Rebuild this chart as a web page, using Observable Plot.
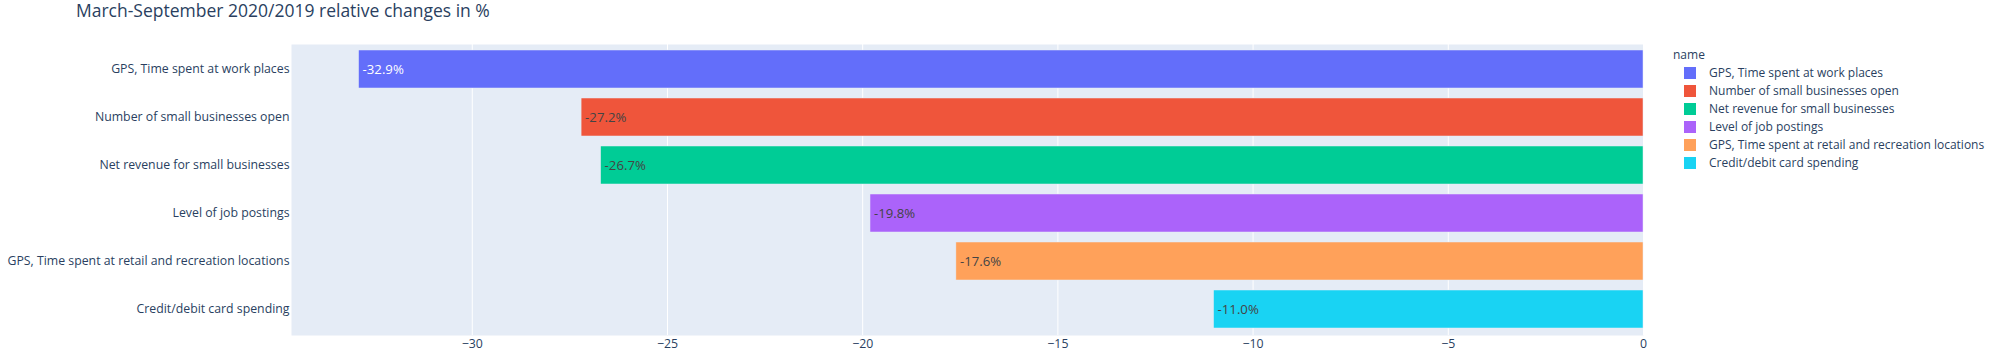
<!DOCTYPE html>
<html>
<head>
<meta charset="utf-8">
<script src="https://cdn.jsdelivr.net/npm/d3@7"></script>
<script src="https://cdn.jsdelivr.net/npm/@observablehq/plot@0.6"></script>
<style>
  html, body { margin: 0; padding: 0; background: #fff; }
  #wrap { position: relative; width: 2000px; height: 361px; font-family: "Open Sans", verdana, arial, sans-serif; color: #2a3f5f; }
  #title { position: absolute; left: 76px; top: 0px; font-size: 17.5px; line-height: 20px; white-space: nowrap; }
  #legend { position: absolute; left: 1673px; top: 46px; font-size: 12px; }
  #legend .ltitle { height: 18px; line-height: 18px; }
  #legend .item { position: relative; height: 18px; line-height: 18px; white-space: nowrap; }
  #legend .sw { position: absolute; left: 11px; top: 3px; width: 12px; height: 12px; }
  #legend .lt { position: absolute; left: 36px; top: 0; }
  svg { display: block; }
</style>
</head>
<body>
<div id="wrap">
  <div id="chart"></div>
  <div id="title"></div>
  <div id="legend"></div>
</div>
<script>
const titleText = "March-September 2020/2019 relative changes in %";
const legendTitle = "name";
const categories = [
  "GPS, Time spent at work places",
  "Number of small businesses open",
  "Net revenue for small businesses",
  "Level of job postings",
  "GPS, Time spent at retail and recreation locations",
  "Credit/debit card spending"
];
const values = [-32.9, -27.2, -26.7, -19.8, -17.6, -11.0];
const labels = ["-32.9%", "-27.2%", "-26.7%", "-19.8%", "-17.6%", "-11.0%"];
const xTicks = [-30, -25, -20, -15, -10, -5, 0];
const palette = ["#636efa", "#EF553B", "#00cc96", "#ab63fa", "#FFA15A", "#19d3f3"];

const data = categories.map((name, i) => ({name, value: values[i], label: labels[i], color: palette[i]}));

function contrast(c) {
  const rgb = d3.rgb(c);
  const b = (rgb.r * 299 + rgb.g * 587 + rgb.b * 114) / 1000;
  return b >= 128 ? "#444" : "#fff";
}

const xmin = d3.min(values) * 1.0526;

const chart = Plot.plot({
  width: 2000,
  height: 361,
  marginTop: 44,
  marginBottom: 26,
  marginLeft: 291,
  marginRight: 357,
  style: {fontFamily: '"Open Sans", verdana, arial, sans-serif', fontSize: "12.3px", color: "#2a3f5f", background: "transparent"},
  x: {domain: [xmin, 0], ticks: xTicks, label: null},
  y: {domain: categories, paddingInner: 0.2, paddingOuter: 0.1, label: null},
  color: {domain: categories, range: palette},
  marks: [
    Plot.frame({fill: "#E5ECF6", stroke: null}),
    Plot.gridX(xTicks, {stroke: "#ffffff", strokeOpacity: 1, strokeWidth: 1}),
    Plot.barX(data, {x1: d => 0, x2: "value", y: "name", fill: "name", stroke: "#E5ECF6", strokeWidth: 0.5}),
    Plot.text(data, {x: "value", y: "name", text: "label", textAnchor: "start", dx: 3.5, fontSize: 13.2, fill: d => contrast(d.color)}),
    Plot.axisX(xTicks, {tickSize: 0, tickPadding: 4, fontSize: 12.3, fill: "#2a3f5f", label: null}),
    Plot.axisY({tickSize: 0, tickPadding: 2, fontSize: 12.3, fill: "#2a3f5f", label: null})
  ]
});
document.getElementById("chart").appendChild(chart);

document.getElementById("title").textContent = titleText;
const leg = document.getElementById("legend");
const lt = document.createElement("div");
lt.className = "ltitle";
lt.textContent = legendTitle;
leg.appendChild(lt);
categories.forEach((c, i) => {
  const it = document.createElement("div");
  it.className = "item";
  const sw = document.createElement("div");
  sw.className = "sw";
  sw.style.background = palette[i];
  const t = document.createElement("div");
  t.className = "lt";
  t.textContent = c;
  it.appendChild(sw);
  it.appendChild(t);
  leg.appendChild(it);
});
</script>
</body>
</html>
